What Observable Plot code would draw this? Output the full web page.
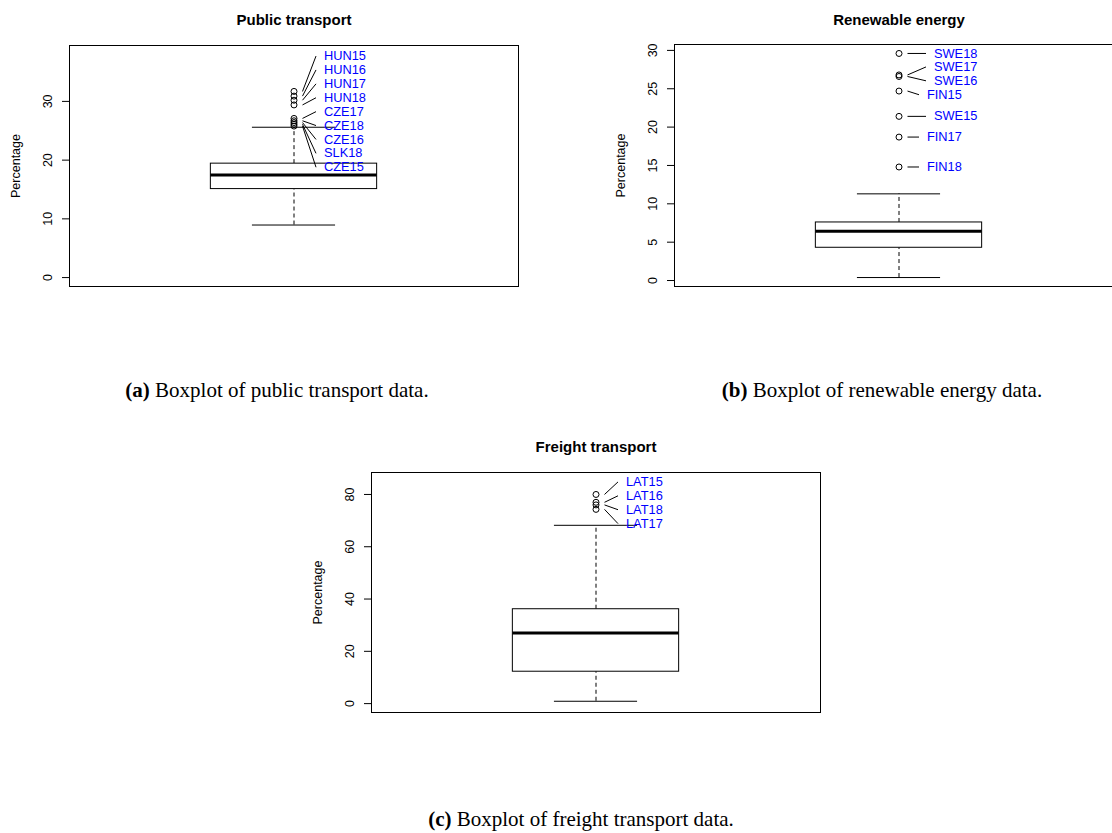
<!DOCTYPE html>
<html>
<head>
<meta charset="utf-8">
<script src="https://cdn.jsdelivr.net/npm/d3@7"></script>
<script src="https://cdn.jsdelivr.net/npm/@observablehq/plot@0.6"></script>
<style>
html, body { margin: 0; padding: 0; background: #fff; overflow: hidden; }
body { width: 1112px; height: 833px; position: relative; }
.panel { position: absolute; }
.panel svg { max-width: none !important; }
.cap { position: absolute; font-family: "Liberation Serif", "Times New Roman", serif; font-size: 21px; white-space: nowrap; transform: translate(-50%, -50%); color: #000; }
.cap b { font-weight: bold; }
</style>
</head>
<body>
<div id="p1" class="panel" style="left:0px;top:0px;width:556px;height:300px"></div>
<div id="p2" class="panel" style="left:556px;top:0px;width:600px;height:300px"></div>
<div id="p3" class="panel" style="left:278px;top:420px;width:556px;height:300px"></div>
<div id="c1" class="cap" style="left:277px;top:390px"></div>
<div id="c2" class="cap" style="left:882px;top:390px"></div>
<div id="c3" class="cap" style="left:581px;top:819px"></div>
<script>
// ---------------- data ----------------
const titles = ["Public transport", "Renewable energy", "Freight transport"];
const captionTags = ["(a)", "(b)", "(c)"];
const captionTexts = [
  "Boxplot of public transport data.",
  "Boxplot of renewable energy data.",
  "Boxplot of freight transport data."
];
const yLabel = "Percentage";

// [lower whisker, Q1, median, Q3, upper whisker]
const publicStats = [8.95, 15.07, 17.45, 19.4, 25.6];
const publicOutlierNames = ["HUN15", "HUN16", "HUN17", "HUN18", "CZE17", "CZE18", "CZE16", "SLK18", "CZE15"];
const publicOutlierValues = [31.7, 30.9, 30.2, 29.4, 27.1, 26.7, 26.4, 26.1, 25.8];
const publicTicks = [0, 10, 20, 30];
const publicYLim = [0, 38];

const renewableStats = [0.39, 4.27, 6.44, 7.57, 11.3];
const renewableOutlierNames = ["SWE18", "SWE17", "SWE16", "FIN15", "SWE15", "FIN17", "FIN18"];
const renewableOutlierValues = [29.6, 26.8, 26.6, 24.7, 21.4, 18.7, 14.8];
const renewableTicks = [0, 5, 10, 15, 20, 25, 30];
const renewableYLim = null; // automatic (data range)

const freightStats = [0.9, 12.2, 27.0, 36.1, 68.2];
const freightOutlierNames = ["LAT15", "LAT16", "LAT18", "LAT17"];
const freightOutlierValues = [80.0, 77.0, 76.0, 74.3];
const freightTicks = [0, 20, 40, 60, 80];
const freightYLim = [0, 85];

// ---------------- helpers ----------------
function spreadLabels(pixels, step, threshold) {
  let clusters = pixels.map((p, i) => ({ idx: [i], mean: p }));
  const pos = c => c.idx.map((_, k) => c.mean + (k - (c.idx.length - 1) / 2) * step);
  let merged = true;
  while (merged) {
    merged = false;
    for (let i = 0; i < clusters.length - 1; i++) {
      const pa = pos(clusters[i]), pb = pos(clusters[i + 1]);
      if (pb[0] - pa[pa.length - 1] < threshold) {
        const idx = clusters[i].idx.concat(clusters[i + 1].idx);
        clusters.splice(i, 2, { idx, mean: d3.mean(idx, j => pixels[j]) });
        merged = true;
        break;
      }
    }
  }
  const out = new Array(pixels.length);
  clusters.forEach(c => pos(c).forEach((p, k) => { out[c.idx[k]] = p; }));
  return out;
}

const FONT = "'Liberation Sans', Arial, Helvetica, sans-serif";

function boxPanel(cfg) {
  const [lo, q1, med, q3, hi] = cfg.stats;
  const [a, b] = cfg.ylim || d3.extent([...cfg.stats, ...cfg.values]);
  const pad = 0.04 * (b - a);
  const yDomain = [a - pad, b + pad];
  const xDomain = [0.46, 1.54];
  const innerW = 449;
  const W = cfg.width, H = cfg.height;
  const mL = cfg.marginLeft, mR = W - mL - innerW, mT = cfg.marginTop, mB = cfg.marginBottom;
  const xs = Plot.scale({ x: { domain: xDomain, range: [mL, mL + innerW] } });
  const ys = Plot.scale({ y: { domain: yDomain, range: [H - mB, mT] } });

  const outliers = cfg.names.map((name, i) => ({ name, value: cfg.values[i], x: 1 }))
    .sort((p, q) => q.value - p.value);
  const ly = spreadLabels(outliers.map(d => ys.apply(d.value)), 13.9, 13);
  const cx = xs.apply(1);
  outliers.forEach((d, i) => {
    const s = cfg.shift ? cfg.shift(d.name) : 0;
    d.labelValue = ys.invert(ly[i]);
    d.lx1 = xs.invert(cx + 8.5);
    d.lx2 = xs.invert(cx + 22 + s);
    d.tx = xs.invert(cx + 30 + s);
  });

  const box = [{ x1: 0.8, x2: 1.2, y1: q1, y2: q3 }];
  const whiskers = [{ x: 1, y1: q3, y2: hi }, { x: 1, y1: lo, y2: q1 }];
  const staples = [{ y: hi, x1: 0.9, x2: 1.1 }, { y: lo, x1: 0.9, x2: 1.1 }];
  const median = [{ y: med, x1: 0.8, x2: 1.2 }];

  return Plot.plot({
    width: W, height: H,
    marginLeft: mL, marginRight: mR, marginTop: mT, marginBottom: mB,
    x: { domain: xDomain, axis: null },
    y: { domain: yDomain, axis: null },
    style: { fontFamily: FONT, fontSize: "12.5px", background: "transparent", overflow: "visible", color: "#000", maxWidth: "none" },
    marks: [
      Plot.ruleX(whiskers, { x: "x", y1: "y1", y2: "y2", stroke: "black", strokeWidth: 1, strokeDasharray: "4,3" }),
      Plot.ruleY(staples, { y: "y", x1: "x1", x2: "x2", stroke: "black", strokeWidth: 1 }),
      Plot.rect(box, { x1: "x1", x2: "x2", y1: "y1", y2: "y2", fill: "white", stroke: "black", strokeWidth: 1 }),
      Plot.ruleY(median, { y: "y", x1: "x1", x2: "x2", stroke: "black", strokeWidth: 3 }),
      Plot.dot(outliers, { x: "x", y: "value", r: 3, stroke: "black", fill: "none", strokeWidth: 1 }),
      Plot.link(outliers, { x1: "lx1", y1: "value", x2: "lx2", y2: "labelValue", stroke: "black", strokeWidth: 1 }),
      Plot.text(outliers, { x: "tx", y: "labelValue", text: "name", textAnchor: "start", fill: "#0000ff", fontSize: 12.8 }),
      Plot.frame({ stroke: "black", strokeWidth: 1 }),
      Plot.axisY({ ticks: cfg.ticks, tickSize: 7, tickFormat: () => "", label: null, stroke: "black" }),
      Plot.text(cfg.ticks, { y: d => d, text: d => String(d), frameAnchor: "left", textAnchor: "middle", dx: -22, rotate: -90, fill: "black", fontSize: 12.5 }),
      Plot.text([yLabel], { frameAnchor: "left", textAnchor: "middle", dx: -53.5, rotate: -90, fill: "black", fontSize: 12.5 }),
      Plot.text([cfg.title], { frameAnchor: "top", textAnchor: "middle", dy: cfg.titleDy, fontWeight: "bold", fontSize: 15, fill: "black" })
    ]
  });
}

document.getElementById("p1").appendChild(boxPanel({
  title: titles[0], stats: publicStats, names: publicOutlierNames, values: publicOutlierValues,
  ticks: publicTicks, ylim: publicYLim,
  width: 556, height: 300, marginLeft: 69, marginTop: 45, marginBottom: 14, titleDy: -31
}));
document.getElementById("p2").appendChild(boxPanel({
  title: titles[1], stats: renewableStats, names: renewableOutlierNames, values: renewableOutlierValues,
  ticks: renewableTicks, ylim: renewableYLim,
  width: 600, height: 300, marginLeft: 118, marginTop: 44, marginBottom: 14, titleDy: -30,
  shift: name => name.startsWith("SWE") ? 5 : -2
}));
document.getElementById("p3").appendChild(boxPanel({
  title: titles[2], stats: freightStats, names: freightOutlierNames, values: freightOutlierValues,
  ticks: freightTicks, ylim: freightYLim,
  width: 556, height: 300, marginLeft: 93, marginTop: 52, marginBottom: 8, titleDy: -31
}));

["c1", "c2", "c3"].forEach((id, i) => {
  const el = document.getElementById(id);
  const b = document.createElement("b");
  b.textContent = captionTags[i];
  el.appendChild(b);
  el.appendChild(document.createTextNode(" " + captionTexts[i]));
});
</script>
</body>
</html>
